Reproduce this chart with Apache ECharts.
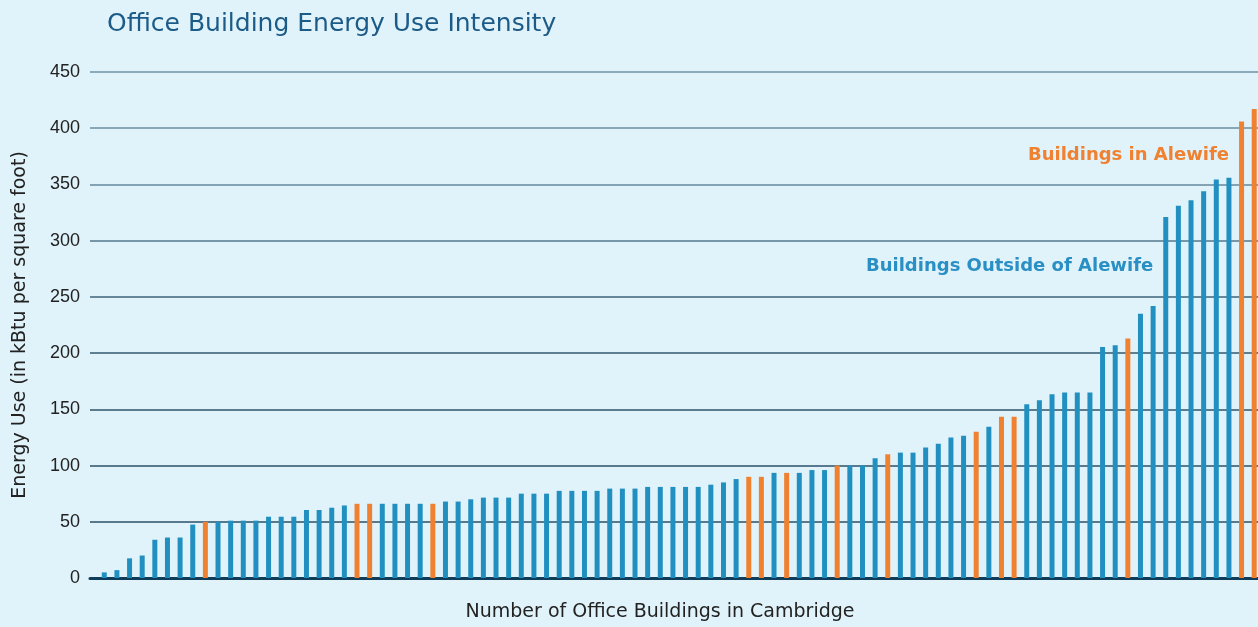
<!DOCTYPE html>
<html>
<head>
<meta charset="utf-8">
<script src="https://cdn.jsdelivr.net/npm/echarts@6/dist/echarts.min.js"></script>
<style>
html,body{margin:0;padding:0;background:#e0f3fa;}
#chart{width:1258px;height:627px;}
</style>
</head>
<body>
<div id="chart"></div>
<script>
// Energy use intensity (kBtu per sq ft), buildings sorted ascending
const energyUse = [
  5, 7, 17.5, 20, 34, 36, 36, 47.5, 50, 50,
  51, 51, 51, 54.5, 54.5, 54.5, 60.5, 60.5, 62.5, 64.5,
  66, 66, 66, 66, 66, 66, 66, 68, 68, 70,
  71.5, 71.5, 71.5, 75, 75, 75, 77.5, 77.5, 77.5, 77.5,
  79.5, 79.5, 79.5, 81, 81, 81, 81, 81, 83, 85,
  88, 90, 90, 93.5, 93.5, 93.5, 96, 96, 100, 100,
  100, 106.5, 110, 111.5, 111.5, 116, 119.5, 125, 126.5, 130,
  134.5, 143.5, 143.5, 154.5, 158, 163.5, 165, 165, 165, 205.5,
  207, 213, 235, 242, 321, 331, 336, 344, 354.5, 356,
  406, 417
];
// 1 = building in Alewife, 0 = outside Alewife
const inAlewife = [
  0,0,0,0,0,0,0,0,1,0,
  0,0,0,0,0,0,0,0,0,0,
  1,1,0,0,0,0,1,0,0,0,
  0,0,0,0,0,0,0,0,0,0,
  0,0,0,0,0,0,0,0,0,0,
  0,1,1,0,1,0,0,0,1,0,
  0,0,1,0,0,0,0,0,0,1,
  0,1,1,0,0,0,0,0,0,0,
  0,1,0,0,0,0,0,0,0,0,
  1,1
];
const yTicks = [0, 50, 100, 150, 200, 250, 300, 350, 400, 450];
const titleText = 'Office Building Energy Use Intensity';
const yName = 'Energy Use (in kBtu per square foot)';
const xName = 'Number of Office Buildings in Cambridge';
const labelAlewife = 'Buildings in Alewife';
const labelOutside = 'Buildings Outside of Alewife';

const BLUE = '#2190c1';
const ORANGE = '#ef8131';

const chart = echarts.init(document.getElementById('chart'), null, {renderer: 'canvas'});
const data = energyUse.map((v, i) => ({
  value: [i, v],
  itemStyle: {color: inAlewife[i] ? ORANGE : BLUE}
}));

const gridColors = ['#2a5066','#2b5167','#2c5268','#2e546a','#33596e','#3d6378','#55798d','#65899c','#6b8fa2','#6f93a6'];

chart.setOption({
  backgroundColor: '#e0f3fa',
  animation: false,
  title: {
    text: titleText,
    left: 102,
    top: 7,
    textStyle: {
      fontFamily: 'DejaVu Sans, sans-serif',
      fontWeight: 'normal',
      fontSize: 25,
      color: '#1c5b87'
    }
  },
  grid: {left: 90, right: 0, top: 72, bottom: 43, containLabel: false},
  xAxis: {
    type: 'value',
    min: -1.13,
    max: 91.3,
    axisLine: {show: true, lineStyle: {color: '#0f3c58', width: 3}},
    axisTick: {show: false},
    axisLabel: {show: false},
    splitLine: {show: false},
    name: xName,
    nameLocation: 'middle',
    nameGap: 25,
    nameTextStyle: {
      fontFamily: 'DejaVu Sans, sans-serif',
      fontSize: 19,
      color: '#222222',
      padding: [0, 28, 0, 0]
    }
  },
  yAxis: {
    type: 'value',
    min: yTicks[0],
    max: yTicks[yTicks.length - 1],
    interval: yTicks[1] - yTicks[0],
    axisLine: {show: false},
    axisTick: {show: false},
    axisLabel: {
      margin: 10,
      fontFamily: 'Liberation Sans, Arial, sans-serif',
      fontSize: 18,
      color: '#222222'
    },
    splitLine: {show: true, lineStyle: {color: gridColors, width: 1.5}},
    name: yName,
    nameLocation: 'middle',
    nameRotate: 90,
    nameGap: 60,
    nameTextStyle: {
      fontFamily: 'DejaVu Sans, sans-serif',
      fontSize: 19,
      color: '#222222'
    }
  },
  series: [{
    type: 'bar',
    barWidth: 5,
    data: data
  }],
  graphic: [
    {
      type: 'text',
      right: 1258 - 1229,
      top: 146,
      style: {
        text: labelAlewife,
        fill: ORANGE,
        font: 'bold 18px "DejaVu Sans", sans-serif'
      }
    },
    {
      type: 'text',
      left: 866,
      top: 257,
      style: {
        text: labelOutside,
        fill: '#2a8fc4',
        font: 'bold 18px "DejaVu Sans", sans-serif'
      }
    }
  ]
});
</script>
</body>
</html>
